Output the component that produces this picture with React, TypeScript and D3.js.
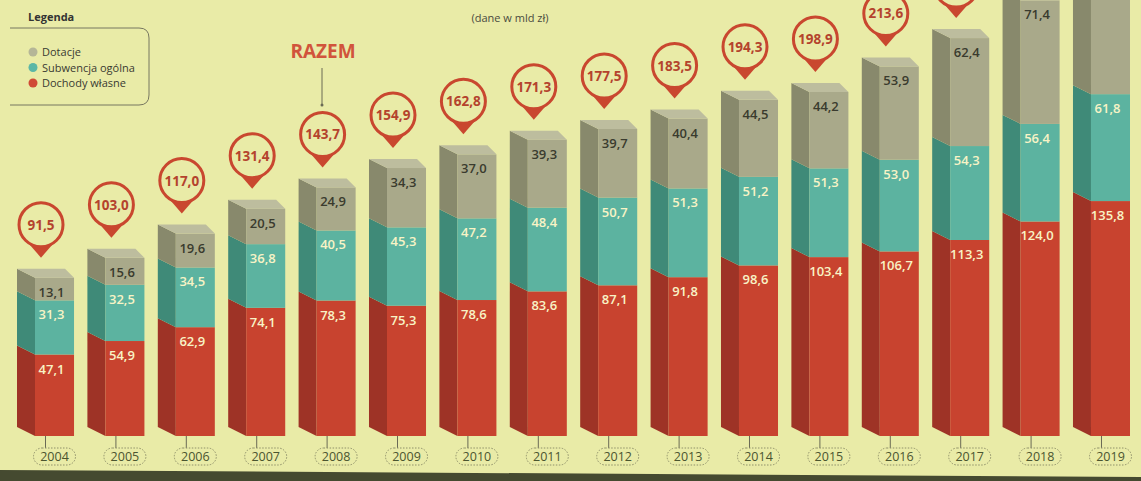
import React from "react";
import * as d3 from "d3";

const years = ["2004","2005","2006","2007","2008","2009","2010","2011","2012","2013","2014","2015","2016","2017","2018","2019"];
const dochodyWlasne = [47.1, 54.9, 62.9, 74.1, 78.3, 75.3, 78.6, 83.6, 87.1, 91.8, 98.6, 103.4, 106.7, 113.3, 124.0, 135.8];
const subwencja = [31.3, 32.5, 34.5, 36.8, 40.5, 45.3, 47.2, 48.4, 50.7, 51.3, 51.2, 51.3, 53.0, 54.3, 56.4, 61.8];
const dotacje = [13.1, 15.6, 19.6, 20.5, 24.9, 34.3, 37.0, 39.3, 39.7, 40.4, 44.5, 44.2, 53.9, 62.4, 71.4, 83.4];
const razem = [91.5, 103.0, 117.0, 131.4, 143.7, 154.9, 162.8, 171.3, 177.5, 183.5, 194.3, 198.9, 213.6, 230.0, 251.8, 281.0];
const seriesNames = ["Dotacje", "Subwencja ogólna", "Dochody własne"];

const W = 1141, H = 481;
const BG = "#e9eba7";
const SIDE = 18, BACK_R = 9, DY = 9;

const colors = {
  red: { front: "#c8432f", side: "#9e3326", top: "#d5614a" },
  teal: { front: "#5cb3a0", side: "#3f8a78", top: "#78c3b0" },
  gray: { front: "#a9a98a", side: "#88896c", top: "#bdbd9e" },
};
const legendColors = ["#b5b697", "#5bb7a6", "#d04a35"];

const fmt = (v: number) => d3.format(".1f")(v).replace(".", ",");

export default function App() {
  const x = d3.scaleBand<string>().domain(years).range([17, 1130]).paddingInner(0.19).paddingOuter(0);
  const y = d3.scaleLinear().domain([0, 280]).range([436, 436 - 1.73 * 280]);

  const bars = years.map((yr, i) => {
    const left = x(yr)!;
    const fx0 = left + SIDE;
    const fx1 = left + x.bandwidth();
    const segs = [
      { v0: 0, v1: dochodyWlasne[i], c: colors.red, val: dochodyWlasne[i], txt: "#f8f3c6" },
      { v0: dochodyWlasne[i], v1: dochodyWlasne[i] + subwencja[i], c: colors.teal, val: subwencja[i], txt: "#f8f3c6" },
      { v0: dochodyWlasne[i] + subwencja[i], v1: dochodyWlasne[i] + subwencja[i] + dotacje[i], c: colors.gray, val: dotacje[i], txt: "#3a3b2e" },
    ];
    const topY = y(segs[2].v1);
    const bubbleCx = ((fx0 - SIDE) + (fx1 - BACK_R)) / 2;
    const tip = y(razem[i]) - 20;
    const cy = tip - 33;
    return (
      <g key={yr}>
        {segs.map((s, k) => {
          const yb = y(s.v0), yt = y(s.v1);
          return (
            <g key={k}>
              <polygon points={`${fx0},${yb} ${fx0 - SIDE},${yb - DY} ${fx0 - SIDE},${yt - DY} ${fx0},${yt}`} fill={s.c.side} />
              <rect x={fx0} y={yt} width={fx1 - fx0} height={yb - yt} fill={s.c.front} />
            </g>
          );
        })}
        <polygon points={`${fx0},${topY} ${fx1},${topY} ${fx1 - BACK_R},${topY - DY} ${fx0 - SIDE},${topY - DY}`} fill={colors.gray.top} />
        {segs.map((s, k) => {
          const ty = y(s.v1) + 19;
          if (ty < 12) return null;
          return (
            <text key={"t" + k} x={(fx0 + fx1) / 2 - 3} y={ty} textAnchor="middle" fontSize={13} fontWeight={600} fill={s.txt} fontFamily="'Open Sans', sans-serif">{fmt(s.val)}</text>
          );
        })}
        {/* tick and year label */}
        <line x1={left + x.bandwidth() / 2} x2={left + x.bandwidth() / 2} y1={436} y2={448} stroke="#6a6a55" strokeWidth={1} />
        <rect x={(fx0 + fx1) / 2 - 21} y={448} width={42} height={17} rx={8.5} fill="none" stroke="#8f906a" strokeWidth={1} strokeDasharray="1.5 1.5" />
        <text x={(fx0 + fx1) / 2} y={461} textAnchor="middle" fontSize={12.5} fill="#4b5530" fontFamily="'Open Sans', sans-serif">{yr}</text>
        {/* bubble */}
        <path d={`M${bubbleCx - 13},${cy + 18} L${bubbleCx + 13},${cy + 18} L${bubbleCx},${tip} Z`} fill="#c9472f" />
        <circle cx={bubbleCx} cy={cy} r={22} fill={BG} stroke="#c9472f" strokeWidth={3} />
        {cy + 5 >= 12 && (
          <text x={bubbleCx} y={cy + 5} textAnchor="middle" fontSize={13.5} fontWeight={700} fill="#b4432d" fontFamily="'Open Sans', sans-serif">{fmt(razem[i])}</text>
        )}
      </g>
    );
  });

  return (
    <svg width={W} height={H} style={{ position: "absolute", left: 0, top: 0 }} fontFamily="'Open Sans', sans-serif">
      <rect x={0} y={0} width={W} height={H} fill={BG} />
      {bars}
      {/* RAZEM */}
      <text x={323} y={58} textAnchor="middle" fontSize={19} fontWeight={700} fill="#d1543b">RAZEM</text>
      <line x1={322} x2={322} y1={68} y2={104} stroke="#6a6a55" strokeWidth={1} />
      <circle cx={322} cy={105} r={1.5} fill="#6a6a55" />
      {/* subtitle */}
      <text x={510} y={22} textAnchor="middle" fontSize={11} fill="#4a4a40">(dane w mld zł)</text>
      {/* legend */}
      <text x={28} y={21} fontSize={11} fontWeight={700} fill="#333">Legenda</text>
      <path d="M10,28 H139 Q149,28 149,38 V95 Q149,105 139,105 H10" fill="none" stroke="#777760" strokeWidth={1} />
      {seriesNames.map((n, i) => (
        <g key={n}>
          <circle cx={33} cy={52 + i * 15.5} r={4.5} fill={legendColors[i]} />
          <text x={42} y={56 + i * 15.5} fontSize={11} fill="#3a3a32">{n}</text>
        </g>
      ))}
      <polygon points={`0,470 ${W},477 ${W},${H} 0,${H}`} fill="#454a30" />
    </svg>
  );
}
